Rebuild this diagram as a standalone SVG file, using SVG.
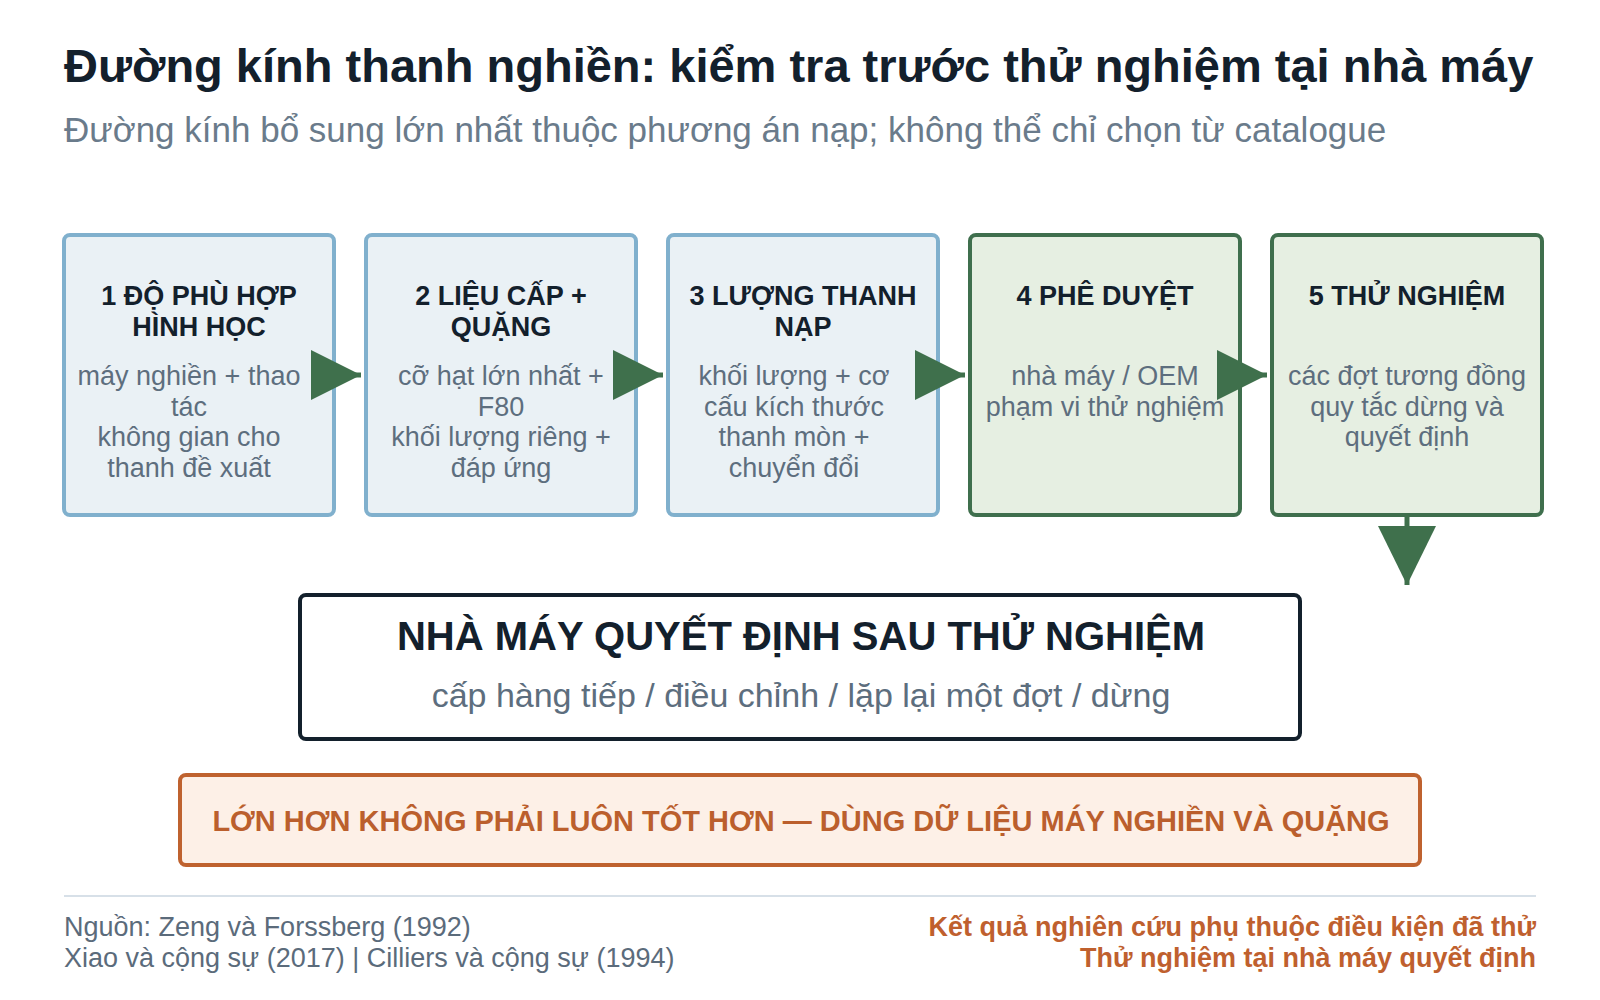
<svg xmlns="http://www.w3.org/2000/svg" width="1600" height="1000" viewBox="0 0 1600 1000">
<defs>
<style>
text{font-family:"Liberation Sans",Arial,sans-serif}
.title{font-size:47px;font-weight:bold;fill:#13202c}
.sub{font-size:35px;fill:#6a7b8b}
.bx{stroke-width:4}
.blue{fill:#eaf1f5;stroke:#80b0cd}
.green{fill:#e6efe2;stroke:#3f6f4d}
.nt{font-size:27px;font-weight:bold;fill:#13202c;text-anchor:middle}
.nb{font-size:27px;fill:#5d6e7e;text-anchor:middle}
.conn{stroke:#3f704c;stroke-width:5;fill:none}
.foot{font-size:27px;fill:#5b6b7b}
.footr{font-size:27px;font-weight:bold;fill:#bf602e;text-anchor:end}
</style>
<marker id="ah" markerUnits="userSpaceOnUse" markerWidth="50" markerHeight="50" refX="50" refY="25" orient="auto" viewBox="0 0 50 50">
<path d="M0,0 L50,25 L0,50 Z" fill="#3f704c"/>
</marker>
<marker id="av" markerUnits="userSpaceOnUse" markerWidth="59" markerHeight="58" refX="59" refY="29" orient="auto" viewBox="0 0 59 58">
<path d="M0,0 L59,29 L0,58 Z" fill="#3f704c"/>
</marker>
</defs>
<rect width="1600" height="1000" fill="#ffffff"/>
<text class="title" x="64" y="82">Đường kính thanh nghiền: kiểm tra trước thử nghiệm tại nhà máy</text>
<text class="sub" x="64" y="142">Đường kính bổ sung lớn nhất thuộc phương án nạp; không thể chỉ chọn từ catalogue</text>

<g id="node1">
<rect class="bx blue" x="64" y="235" width="270" height="280" rx="6"/>
<text class="nt" x="199" y="305">1 ĐỘ PHÙ HỢP</text>
<text class="nt" x="199" y="336">HÌNH HỌC</text>
<text class="nb" x="189" y="385">máy nghiền + thao</text>
<text class="nb" x="189" y="416">tác</text>
<text class="nb" x="189" y="446">không gian cho</text>
<text class="nb" x="189" y="477">thanh đề xuất</text>
</g>
<g id="node2">
<rect class="bx blue" x="366" y="235" width="270" height="280" rx="6"/>
<text class="nt" x="501" y="305">2 LIỆU CẤP +</text>
<text class="nt" x="501" y="336">QUẶNG</text>
<text class="nb" x="501" y="385">cỡ hạt lớn nhất +</text>
<text class="nb" x="501" y="416">F80</text>
<text class="nb" x="501" y="446">khối lượng riêng +</text>
<text class="nb" x="501" y="477">đáp ứng</text>
</g>
<g id="node3">
<rect class="bx blue" x="668" y="235" width="270" height="280" rx="6"/>
<text class="nt" x="803" y="305">3 LƯỢNG THANH</text>
<text class="nt" x="803" y="336">NẠP</text>
<text class="nb" x="794" y="385">khối lượng + cơ</text>
<text class="nb" x="794" y="416">cấu kích thước</text>
<text class="nb" x="794" y="446">thanh mòn +</text>
<text class="nb" x="794" y="477">chuyển đổi</text>
</g>
<g id="node4">
<rect class="bx green" x="970" y="235" width="270" height="280" rx="6"/>
<text class="nt" x="1105" y="305">4 PHÊ DUYỆT</text>
<text class="nb" x="1105" y="385">nhà máy / OEM</text>
<text class="nb" x="1105" y="416">phạm vi thử nghiệm</text>
</g>
<g id="node5">
<rect class="bx green" x="1272" y="235" width="270" height="280" rx="6"/>
<text class="nt" x="1407" y="305">5 THỬ NGHIỆM</text>
<text class="nb" x="1407" y="385">các đợt tương đồng</text>
<text class="nb" x="1407" y="416">quy tắc dừng và</text>
<text class="nb" x="1407" y="446">quyết định</text>
</g>

<g id="connectors">
<line class="conn" x1="334" y1="375" x2="361" y2="375" marker-end="url(#ah)"/>
<line class="conn" x1="636" y1="375" x2="663" y2="375" marker-end="url(#ah)"/>
<line class="conn" x1="938" y1="375" x2="965" y2="375" marker-end="url(#ah)"/>
<line class="conn" x1="1240" y1="375" x2="1267" y2="375" marker-end="url(#ah)"/>
<line class="conn" x1="1407" y1="515" x2="1407" y2="585" marker-end="url(#av)"/>
</g>

<g id="decision">
<rect x="300" y="595" width="1000" height="144" rx="6" fill="#ffffff" stroke="#13202c" stroke-width="4"/>
<text x="801" y="650" text-anchor="middle" font-size="40" font-weight="bold" fill="#13202c">NHÀ MÁY QUYẾT ĐỊNH SAU THỬ NGHIỆM</text>
<text x="801" y="707" text-anchor="middle" font-size="34" fill="#5d6e7e">cấp hàng tiếp / điều chỉnh / lặp lại một đợt / dừng</text>
</g>

<g id="banner">
<rect x="180" y="775" width="1240" height="90" rx="6" fill="#fdf0e7" stroke="#bf622f" stroke-width="4"/>
<text x="801" y="831" text-anchor="middle" font-size="29" font-weight="bold" fill="#bb5f2d">LỚN HƠN KHÔNG PHẢI LUÔN TỐT HƠN — DÙNG DỮ LIỆU MÁY NGHIỀN VÀ QUẶNG</text>
</g>

<line x1="64" y1="896" x2="1536" y2="896" stroke="#d7e0e8" stroke-width="2"/>
<text class="foot" x="64" y="936">Nguồn: Zeng và Forssberg (1992)</text>
<text class="foot" x="64" y="967">Xiao và cộng sự (2017) | Cilliers và cộng sự (1994)</text>
<text class="footr" x="1536" y="936">Kết quả nghiên cứu phụ thuộc điều kiện đã thử</text>
<text class="footr" x="1536" y="967">Thử nghiệm tại nhà máy quyết định</text>
</svg>
